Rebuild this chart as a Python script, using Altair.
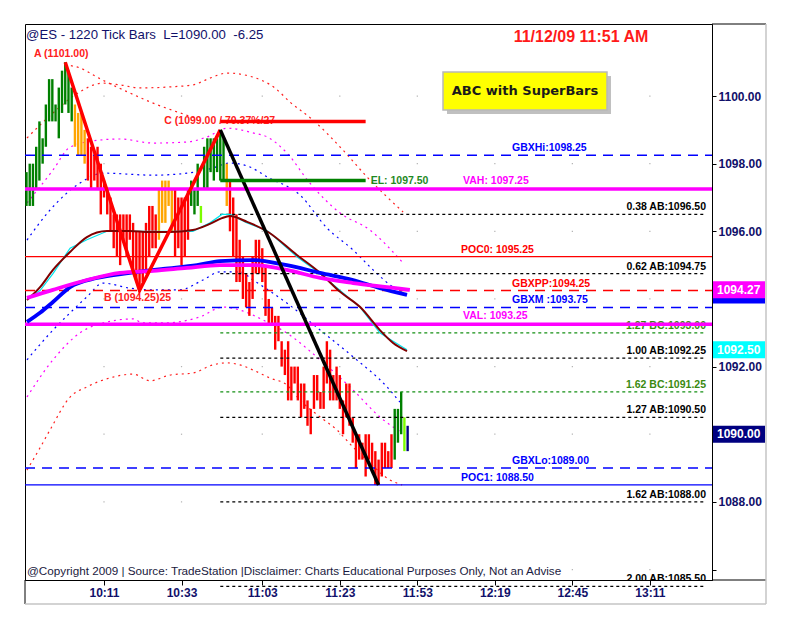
import altair as alt
import pandas as pd

# ------------------------------------------------------------------ data
BAR_HIGH = [1097.75, 1098.0, 1098.0, 1098.5, 1099.25, 1098.75, 1099.75, 1100.5, 1100.5, 1099.75,
            1100.25, 1100.75, 1101.0, 1100.75, 1100.25, 1099.75, 1099.5, 1099.5, 1099.0, 1098.75,
            1098.5, 1098.25, 1098.5, 1098.0, 1097.5, 1097.25, 1097.0, 1096.5, 1096.5, 1096.5,
            1096.5, 1096.5, 1096.5, 1096.25, 1096.0, 1096.0, 1096.0, 1096.25, 1096.75, 1096.75,
            1096.5, 1097.25, 1097.5, 1097.5, 1097.5, 1097.25, 1097.25, 1097.0, 1097.0, 1097.0,
            1097.25, 1097.5, 1097.25, 1098.0, 1096.75, 1098.5, 1098.75, 1098.75, 1098.75, 1098.75,
            1099.0, 1098.75, 1098.0, 1097.5, 1097.0, 1096.5, 1095.75, 1095.25, 1094.75, 1094.5,
            1095.25, 1095.75, 1095.75, 1095.5, 1095.0, 1094.0, 1093.75, 1093.5, 1093.5, 1092.75,
            1092.5, 1092.75, 1092.0, 1092.0, 1092.0, 1091.5, 1091.5, 1091.0, 1090.75, 1091.75,
            1091.75, 1091.25, 1092.0, 1092.75, 1092.5, 1091.75, 1092.0, 1091.75, 1091.0, 1091.5,
            1091.5, 1090.5, 1090.0, 1090.0, 1089.75, 1090.0, 1090.0, 1089.75, 1089.5, 1089.25,
            1089.75, 1089.75, 1089.5, 1090.0, 1090.75, 1090.75, 1091.25, 1090.5, 1090.25]
BAR_LOW = [1096.75, 1096.75, 1096.75, 1097.25, 1097.5, 1098.0, 1098.5, 1099.25, 1099.25, 1099.25,
           1098.75, 1099.5, 1099.75, 1099.5, 1099.25, 1098.5, 1098.25, 1098.25, 1098.0, 1097.5,
           1097.25, 1097.5, 1097.25, 1096.5, 1097.0, 1096.5, 1096.0, 1095.5, 1095.25, 1095.0,
           1095.75, 1095.25, 1095.75, 1094.75, 1094.5, 1094.25, 1094.5, 1094.75, 1095.25, 1095.5,
           1095.5, 1095.75, 1096.25, 1096.25, 1096.75, 1096.0, 1095.25, 1095.5, 1095.0, 1095.25,
           1095.75, 1096.75, 1096.5, 1096.75, 1096.25, 1097.25, 1097.25, 1097.75, 1097.5, 1097.75,
           1097.5, 1097.5, 1096.75, 1096.0, 1095.25, 1094.5, 1094.5, 1094.0, 1093.75, 1093.5,
           1094.0, 1094.75, 1094.75, 1094.5, 1093.5, 1093.25, 1093.25, 1092.5, 1092.75, 1092.0,
           1091.75, 1091.0, 1091.0, 1091.5, 1091.0, 1090.5, 1090.75, 1090.25, 1090.0, 1090.75,
           1091.0, 1090.75, 1090.75, 1091.5, 1091.0, 1091.0, 1091.0, 1090.75, 1090.0, 1090.5,
           1090.25, 1089.75, 1089.0, 1089.25, 1089.25, 1088.75, 1089.25, 1089.0, 1088.5, 1088.5,
           1088.75, 1089.0, 1089.0, 1089.0, 1089.25, 1089.75, 1090.0, 1089.5, 1089.5]
# SuperBars state: G strong up, O weakening, R down, L turning up, N current bar
BAR_STATE = ("GGGGGGGGGGGGGGG" "OOOO" "RRRRRRRRRR" "RRRRRRRRRR" "RR" "OOOOO" "RRRRR" "GGG" "L"
             "GGGGGGG" "O" "RRRRRRRRRR" "RRRRRRRRRR" "RRRRRRRRRR" "RRRRRRRRRR" "RRRRRRRRRR" "R"
             "GGG" "L" "N")

PIVOT_A, PIVOT_B, PIVOT_C, PIVOT_D = 12, 35, 60, 109
C_LINE_PRICE = 1099.25
EL_PRICE = 1097.50
C_LINE_END = 105

TIME_TICKS = [24, 48, 73, 97, 121, 145, 169, 193]
TIME_LABELS = ["10:11", "10:33", "11:03", "11:23", "11:53", "12:19", "12:45", "13:11"]
PRICE_TICKS = [1086, 1088, 1090, 1092, 1094, 1096, 1098, 1100]
PRICE_HIDDEN = [1094, 1090, 1086]

# moving averages
BROWN_X = [0.15, 4.2, 8.2, 13.5, 18.7, 24.9, 32.0, 38.2, 44.4, 51.5, 56.8, 60.5, 63.0, 68.3, 74.8,
           83.7, 90.9, 97.1, 103.3, 109.4, 113.5, 117.8]
BROWN_Y = [1093.97, 1094.35, 1094.86, 1095.39, 1095.83, 1096.01, 1096.01, 1095.98, 1095.98, 1096.04,
           1096.22, 1096.39, 1096.45, 1096.28, 1095.98, 1095.30, 1094.77, 1094.21, 1093.76, 1093.08,
           1092.70, 1092.46]
CYAN_Y = [1094.0, 1094.25, 1094.75, 1095.5, 1095.75, 1096.0, 1096.0, 1096.0, 1096.0, 1096.0,
          1096.25, 1096.5, 1096.5, 1096.25, 1096.0, 1095.25, 1094.75, 1094.25, 1093.75, 1093.0,
          1092.75, 1092.5]
BLUE_MA_X = [0.15, 4.2, 8.2, 13.5, 21.8, 32.0, 42.3, 52.8, 59.9, 70.1, 80.6, 90.9, 101.1, 109.4, 117.8]
BLUE_MA_Y = [1093.32, 1093.59, 1093.91, 1094.35, 1094.62, 1094.77, 1094.89, 1095.0, 1095.12, 1095.15,
             1095.0, 1094.77, 1094.56, 1094.32, 1094.12]
MAG_MA_X = [0.15, 8.2, 18.7, 28.9, 39.2, 49.7, 59.9, 70.1, 80.6, 90.9, 101.1, 111.6, 118.7]
MAG_MA_Y = [1094.03, 1094.27, 1094.56, 1094.77, 1094.83, 1094.92, 1095.0, 1095.0, 1094.86, 1094.62,
            1094.47, 1094.35, 1094.27]

# dotted bands
BLUE_UP_X = [0.15, 7.3, 16.6, 23.7, 39.2, 49.7, 57.7, 63.0, 69.2, 74.5, 84.7, 93.0, 101.1, 107.3, 113.5, 117.8]
BLUE_UP_Y = [1095.74, 1096.63, 1097.43, 1097.72, 1097.66, 1097.72, 1097.87, 1098.02, 1097.90, 1097.61,
             1097.07, 1096.10, 1095.45, 1094.86, 1094.35, 1094.12]
BLUE_LO_X = [0.15, 8.2, 13.5, 18.7, 23.7, 32.0, 38.2, 47.5, 54.6, 59.9, 66.1, 70.1, 80.6, 90.9, 101.1, 111.6, 115.6]
BLUE_LO_Y = [1092.20, 1093.08, 1093.59, 1094.06, 1094.47, 1094.32, 1094.27, 1094.27, 1094.56, 1094.80,
             1094.80, 1094.56, 1093.88, 1093.08, 1092.29, 1091.40, 1090.95]
MAG_UP_X = [0.15, 8.2, 13.5, 22.8, 28.9, 39.2, 49.7, 55.9, 62.1, 70.1, 74.5, 80.6, 87.7, 97.1, 106.3, 116.6]
MAG_UP_Y = [1096.84, 1097.81, 1098.49, 1098.70, 1098.73, 1098.61, 1098.64, 1098.79, 1099.05, 1098.91,
            1098.79, 1098.32, 1097.43, 1096.54, 1096.04, 1095.06]
MAG_LO_X = [0.15, 8.2, 16.6, 23.7, 33.0, 36.1, 42.3, 53.7, 60.8, 66.1, 73.2, 80.6, 90.9, 101.1, 109.4, 116.3]
MAG_LO_Y = [1091.10, 1092.20, 1093.0, 1093.29, 1093.41, 1093.29, 1093.29, 1093.47, 1093.76, 1093.67,
            1093.38, 1092.99, 1092.20, 1091.31, 1090.51, 1090.04]
RED_UP_X = [0.15, 8.2, 15.0, 23.7, 28.9, 35.1, 44.4, 51.5, 56.8, 62.1, 70.1, 76.9, 81.6, 88.7, 98.0, 105.4, 116.6]
RED_UP_Y = [1098.76, 1099.50, 1100.03, 1100.38, 1100.33, 1100.24, 1100.27, 1100.33, 1100.53, 1100.68,
            1100.56, 1100.24, 1099.82, 1099.29, 1098.40, 1097.61, 1096.57]
RED_TR_X = [11.9, 16.6, 21.8, 24.9, 32.0, 39.2, 48.5, 52.2]
RED_TR_Y = [1100.92, 1100.83, 1100.56, 1100.41, 1100.09, 1099.79, 1099.47, 1099.35]
RED_LO_X = [0.15, 4.2, 7.3, 13.5, 18.7, 26.8, 33.0, 38.2, 44.4, 51.5, 57.7, 62.1, 66.1, 70.1, 75.4,
            80.6, 84.7, 90.9, 96.1, 101.1, 106.3, 112.5, 116.3]
RED_LO_Y = [1088.94, 1089.60, 1090.13, 1091.10, 1091.40, 1091.69, 1091.78, 1091.58, 1091.75, 1091.81,
            1092.05, 1092.11, 1092.05, 1091.90, 1091.66, 1091.46, 1091.01, 1090.51, 1090.13, 1089.62,
            1089.15, 1088.65, 1088.50]

# horizontal levels
GBX_NAMES = ["GBXHi", "GBXPP", "GBXM ", "GBXLo"]
GBX_PRICES = [1098.25, 1094.25, 1093.75, 1089.00]
VA_NAMES = ["VAH", "VAL"]
VA_PRICES = [1097.25, 1093.25]
POC_NAMES = ["POC0", "POC1"]
POC_PRICES = [1095.25, 1088.50]
AB_RATIOS = ["0.38", "0.62", "1.00", "1.27", "1.62", "2.00"]
AB_PRICES = [1096.50, 1094.75, 1092.25, 1090.50, 1088.00, 1085.50]
BC_RATIOS = ["1.27", "1.62"]
BC_PRICES = [1093.00, 1091.25]

BADGE_SERIES = ["blue_ma", "magenta_ma", "cyan_step", "last"]
BADGE_PRICES = [1094.12, 1094.27, 1092.50, 1090.00]

TITLE = "@ES - 1220 Tick Bars\u00a0\u00a0L=1090.00\u00a0\u00a0-6.25"
DATE = "11/12/09 11:51 AM"
BOX = "ABC with SuperBars"
FOOT = "@Copyright 2009 | Source: TradeStation |Disclaimer: Charts Educational Purposes Only, Not an Advise"

# ------------------------------------------------------------------ layout / styles
W, H = 687, 556
X_DOMAIN = [-0.46, 212.23]
Y_DOMAIN = [1085.69, 1102.13]
FONT = "Liberation Sans"
NAVY = "#10106a"

XS = alt.Scale(domain=X_DOMAIN, nice=False, zero=False)
YS = alt.Scale(domain=Y_DOMAIN, nice=False, zero=False)

xexpr = "''"
for v, t in reversed(list(zip(TIME_TICKS, TIME_LABELS))):
    xexpr = f"datum.value == {v} ? '{t}' : ({xexpr})"
XAX = alt.Axis(orient="bottom", values=TIME_TICKS, labelExpr=xexpr, tickSize=5, tickColor="black",
               domainColor="black", labelFont=FONT, labelFontSize=12, labelFontWeight="bold",
               labelColor=NAVY, labelPadding=2, grid=False, title=None, labelFlush=False,
               labelOverlap=False)
YAX = alt.Axis(orient="right", values=PRICE_TICKS,
               labelExpr=f"indexof({PRICE_HIDDEN}, datum.value) >= 0 ? '' : format(datum.value, '.2f')",
               tickSize=4, tickColor="black", domainColor="black", labelFont=FONT, labelFontSize=12,
               labelFontWeight="bold", labelColor=NAVY, labelPadding=2, grid=False, title=None,
               labelFlush=False, labelOverlap=False)


def X(f="x"):
    return alt.X(f"{f}:Q", scale=XS, axis=XAX, title=None)


def Y(f="y"):
    return alt.Y(f"{f}:Q", scale=YS, axis=YAX, title=None)


def curve(xs, ys, color, width, dash=None, interp="monotone"):
    kw = dict(color=color, strokeWidth=width, interpolate=interp, strokeCap="butt")
    if dash:
        kw["strokeDash"] = dash
    return alt.Chart(pd.DataFrame({"x": xs, "y": ys})).mark_line(**kw).encode(x=X(), y=Y())


def hrule(x0, x1, price, color, width):
    df = pd.DataFrame({"x": [x0], "x2": [x1], "y": [price]})
    return alt.Chart(df).mark_rule(color=color, strokeWidth=width).encode(x=X(), x2=alt.X2("x2"), y=Y())


layers = []
ONE = pd.DataFrame({"a": [0]})

# grid dots
grid = pd.DataFrame([(t, p) for t in TIME_TICKS for p in PRICE_TICKS], columns=["x", "y"])
layers.append(alt.Chart(grid).mark_square(size=1.5, color="#b4b4b4", opacity=1).encode(x=X(), y=Y()))

# dotted bands
layers += [
    curve(RED_UP_X, RED_UP_Y, "#ff2020", 1.2, [2, 4]),
    curve(RED_TR_X, RED_TR_Y, "#ff2020", 1.2, [2, 4]),
    curve(RED_LO_X, RED_LO_Y, "#ff2020", 1.2, [2, 4]),
    curve(MAG_UP_X, MAG_UP_Y, "#ff00ff", 1.2, [2, 4]),
    curve(MAG_LO_X, MAG_LO_Y, "#ff00ff", 1.2, [2, 4]),
    curve(BLUE_UP_X, BLUE_UP_Y, "#0000ff", 1.2, [2, 4]),
    curve(BLUE_LO_X, BLUE_LO_Y, "#0000ff", 1.2, [2, 4]),
]

# bars
bars = pd.DataFrame({"x": list(range(len(BAR_HIGH))), "hi": BAR_HIGH, "lo": BAR_LOW, "s": list(BAR_STATE)})
layers.append(alt.Chart(bars).mark_rule(strokeWidth=2.4).encode(
    x=X(), y=Y("lo"), y2=alt.Y2("hi"),
    color=alt.Color("s:N", legend=None, scale=alt.Scale(
        domain=["G", "O", "R", "L", "N"],
        range=["#008000", "#ffa500", "#ff0000", "#7cfc00", "#000080"]))))

# full width levels
GBX_COLORS = {"GBXPP": "#ff0000"}
for name, price in zip(GBX_NAMES, GBX_PRICES):
    df = pd.DataFrame({"y": [price], "t": [f"{name}:{price:.2f}"]})
    col = GBX_COLORS.get(name, "#0000ff")
    layers.append(alt.Chart(df).mark_rule(color=col, strokeWidth=1.5, strokeDash=[10, 7]).encode(
        x=alt.value(0), x2=alt.value(W), y=Y()))
    layers.append(alt.Chart(df).mark_text(font=FONT, fontSize=10.5, fontWeight="bold", color=col,
                                          align="left", baseline="bottom", dy=-2).encode(
        x=alt.value(487), y=Y(), text="t:N"))

POC_COLORS = {"POC0": "#ff0000", "POC1": "#0000ff"}
for name, price in zip(POC_NAMES, POC_PRICES):
    df = pd.DataFrame({"y": [price], "t": [f"{name}: {price:.2f}"]})
    col = POC_COLORS[name]
    layers.append(alt.Chart(df).mark_rule(color=col, strokeWidth=1.3).encode(
        x=alt.value(0), x2=alt.value(W), y=Y()))
    layers.append(alt.Chart(df).mark_text(font=FONT, fontSize=10.5, fontWeight="bold", color=col,
                                          align="left", baseline="bottom", dy=-2).encode(
        x=alt.value(436), y=Y(), text="t:N"))

# Fibonacci projections from C
ab = pd.DataFrame({"x": [PIVOT_C] * len(AB_PRICES), "y": AB_PRICES,
                   "t": [f"{r} AB:{p:.2f}" for r, p in zip(AB_RATIOS, AB_PRICES)]})
bc = pd.DataFrame({"x": [PIVOT_C] * len(BC_PRICES), "y": BC_PRICES,
                   "t": [f"{r} BC:{p:.2f}" for r, p in zip(BC_RATIOS, BC_PRICES)]})
for df, col, tcol in [(ab, "#000000", "#000000"), (bc, "#159015", "#3a8a10")]:
    layers.append(alt.Chart(df).mark_rule(color=col, strokeWidth=1.2, strokeDash=[3, 3]).encode(
        x=X(), x2=alt.value(680), y=Y()))
    layers.append(alt.Chart(df).mark_text(font=FONT, fontSize=10.5, fontWeight="bold", color=tcol,
                                          align="right", baseline="bottom", dy=-2, clip=True).encode(
        x=alt.value(681), y=Y(), text="t:N"))

# value area
va = pd.DataFrame({"y": VA_PRICES, "t": [f"{n}: {p:.2f}" for n, p in zip(VA_NAMES, VA_PRICES)]})
layers.append(alt.Chart(va).mark_text(font=FONT, fontSize=10.5, fontWeight="bold", color="#ff00ff",
                                      align="left", baseline="bottom", dy=-3).encode(
    x=alt.value(438), y=Y(), text="t:N"))
layers.append(alt.Chart(va).mark_rule(color="#ff00ff", strokeWidth=3.5).encode(
    x=alt.value(0), x2=alt.value(W), y=Y()))

# moving averages
layers += [
    curve(BROWN_X, CYAN_Y, "#00e5ee", 1.2, interp="linear"),
    curve(BROWN_X, BROWN_Y, "#800000", 2.0),
    curve(BLUE_MA_X, BLUE_MA_Y, "#0000ff", 3.8),
    curve(MAG_MA_X, MAG_MA_Y, "#ff00ff", 3.8),
]

# ABC pattern
xa, ya = PIVOT_A, BAR_HIGH[PIVOT_A]
xb, yb = PIVOT_B, BAR_LOW[PIVOT_B]
xc, yc = PIVOT_C, BAR_HIGH[PIVOT_C]
xd, yd = PIVOT_D, BAR_LOW[PIVOT_D]
ret = (yc - yb) / (ya - yb) * 100

clab = pd.DataFrame({"x": [xc], "y": [C_LINE_PRICE], "t": [f"C ({yc:.2f} / {ret:.2f}%/27"]})
layers.append(alt.Chart(clab).mark_text(font=FONT, fontSize=10.5, fontWeight="bold", color="#ff2020",
                                        align="left", baseline="middle", dx=-56).encode(
    x=X(), y=Y(), text="t:N"))

layers.append(curve([xa, xb, xc], [ya, yb, yc], "#ff0000", 3.5, interp="linear"))
layers.append(curve([xc, xd], [yc, yd], "#000000", 3.5, interp="linear"))

layers.append(hrule(xc, C_LINE_END, C_LINE_PRICE, "#ff0000", 3.5))
layers.append(hrule(xc, C_LINE_END, EL_PRICE, "#008000", 3.5))

el = pd.DataFrame({"x": [C_LINE_END], "y": [EL_PRICE], "t": [f"EL: {EL_PRICE:.2f}"]})
layers.append(alt.Chart(el).mark_text(font=FONT, fontSize=10.5, fontWeight="bold", color="#1f8a1f",
                                      align="left", baseline="middle", dx=5).encode(
    x=X(), y=Y(), text="t:N"))

alab = pd.DataFrame({"x": [xa], "y": [ya], "t": [f"A ({ya:.2f})"]})
layers.append(alt.Chart(alab).mark_text(font=FONT, fontSize=10.5, fontWeight="bold", color="#ff2020",
                                        align="center", baseline="bottom", dy=-3, dx=-4).encode(
    x=X(), y=Y(), text="t:N"))
blab = pd.DataFrame({"x": [xb], "y": [yb], "t": [f"B ({yb:.2f})25"]})
layers.append(alt.Chart(blab).mark_text(font=FONT, fontSize=10.5, fontWeight="bold", color="#ff2020",
                                        align="center", baseline="top", dy=2, dx=-2).encode(
    x=X(), y=Y(), text="t:N"))

# price badges on the axis (blue one sits mostly under the magenta one)
BADGE_FILL = {"blue_ma": "#0000ff", "magenta_ma": "#ff00ff", "cyan_step": "#00ffff", "last": "#000080"}
half = 8.5 * (Y_DOMAIN[1] - Y_DOMAIN[0]) / H
for s, p in zip(BADGE_SERIES, BADGE_PRICES):
    df = pd.DataFrame({"y": [p + half], "y2": [p - half], "m": [p], "t": [f"{p:.2f}"]})
    layers.append(alt.Chart(df).mark_rect(color=BADGE_FILL[s]).encode(
        x=alt.value(688), x2=alt.value(740), y=Y(), y2=alt.Y2("y2")))
    if s != "blue_ma":
        layers.append(alt.Chart(df).mark_text(font=FONT, fontSize=12, fontWeight="bold", color="white",
                                              align="left", baseline="middle").encode(
            x=alt.value(692), y=Y("m"), text="t:N"))

# annotations
layers.append(alt.Chart(ONE).mark_rect(color="#8c8c8c", opacity=0.55).encode(
    x=alt.value(422), x2=alt.value(586), y=alt.value(52), y2=alt.value(90)))
layers.append(alt.Chart(ONE).mark_rect(color="#ffff00", stroke="#b8b8b8", strokeWidth=1.5).encode(
    x=alt.value(418), x2=alt.value(582), y=alt.value(48), y2=alt.value(86)))
layers.append(alt.Chart(pd.DataFrame({"t": [BOX]})).mark_text(
    font="DejaVu Sans", fontSize=13, fontWeight="bold", color="#1a1a1a", align="center",
    baseline="middle").encode(x=alt.value(500), y=alt.value(67), text="t:N"))
layers.append(alt.Chart(pd.DataFrame({"t": [TITLE]})).mark_text(
    font=FONT, fontSize=13.2, color=NAVY, align="left", baseline="middle").encode(
    x=alt.value(1), y=alt.value(11), text="t:N"))
layers.append(alt.Chart(pd.DataFrame({"t": [DATE]})).mark_text(
    font=FONT, fontSize=16, fontWeight="bold", color="#ff1a1a", align="center",
    baseline="middle").encode(x=alt.value(556), y=alt.value(13), text="t:N"))
layers.append(alt.Chart(pd.DataFrame({"t": [FOOT]})).mark_text(
    font=FONT, fontSize=11.7, color="#1a1a40", align="left", baseline="middle").encode(
    x=alt.value(2), y=alt.value(547), text="t:N"))

# frame
layers += [
    alt.Chart(ONE).mark_rule(color="black").encode(x=alt.value(W), x2=alt.value(741), y=alt.value(0)),
    alt.Chart(ONE).mark_rule(color="black").encode(x=alt.value(W), x2=alt.value(741), y=alt.value(H)),
    alt.Chart(ONE).mark_rule(color="black").encode(x=alt.value(0), y=alt.value(H), y2=alt.value(580)),
    alt.Chart(ONE).mark_rule(color="#c4c4c4", strokeWidth=1.5).encode(x=alt.value(741), y=alt.value(0), y2=alt.value(580)),
    alt.Chart(ONE).mark_rule(color="#c4c4c4", strokeWidth=1.5).encode(x=alt.value(0), x2=alt.value(741), y=alt.value(580)),
]

chart = alt.layer(*layers).properties(
    width=W, height=H, autosize="none",
    padding={"left": 17, "top": 16, "right": 60, "bottom": 40},
    background="white",
).configure_view(stroke="black", strokeWidth=1)

chart.save("out.html", embed_options={"renderer": "svg", "actions": False})
